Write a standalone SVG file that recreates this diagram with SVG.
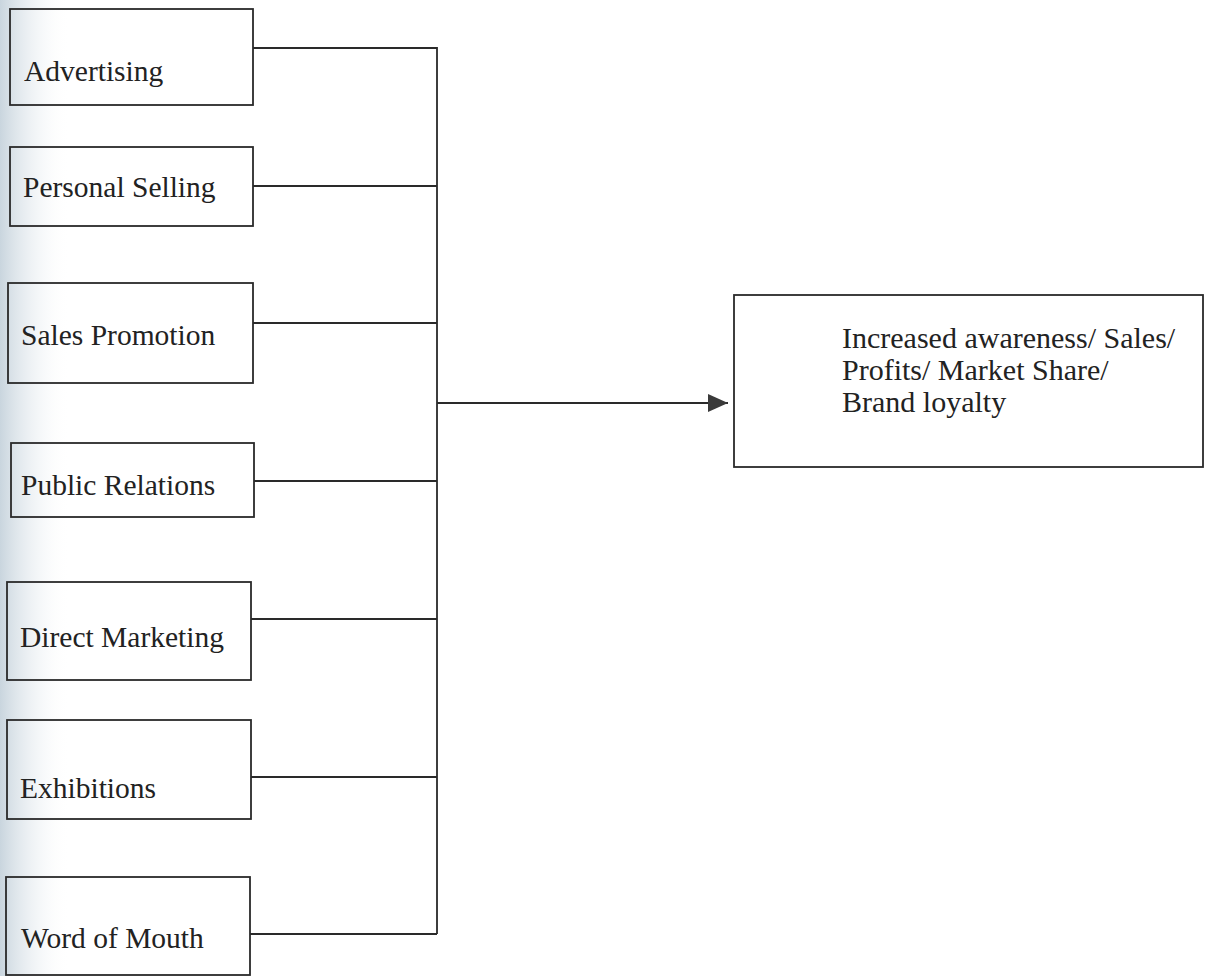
<svg xmlns="http://www.w3.org/2000/svg" width="1207" height="976" viewBox="0 0 1207 976">
  <defs>
    <linearGradient id="edge" x1="0" y1="0" x2="1" y2="0">
      <stop offset="0" stop-color="#c9d5de"/>
      <stop offset="1" stop-color="#ffffff" stop-opacity="0"/>
    </linearGradient>
    <marker id="arrow" viewBox="0 0 20 18" refX="20" refY="9" markerWidth="20" markerHeight="18" markerUnits="userSpaceOnUse" orient="auto">
      <path d="M0,0 L20,9 L0,18 Z" fill="#3a3a3a"/>
    </marker>
    <style>
      .box { fill: none; stroke: #2a2a2a; stroke-width: 1.8; }
      .lbl { font-family: "Liberation Serif", "Times New Roman", serif; font-size: 29.5px; fill: #222; }
      .out { font-family: "Liberation Serif", "Times New Roman", serif; font-size: 30px; fill: #222; }
      .con { fill: none; stroke: #2a2a2a; stroke-width: 1.8; }
    </style>
  </defs>
  <rect x="0" y="0" width="1207" height="976" fill="#ffffff"/>
  <rect x="0" y="0" width="70" height="976" fill="url(#edge)"/>

  <g id="connectors">
    <path class="con" d="M253,48 H437 V934"/>
    <path class="con" d="M253,186 H437"/>
    <path class="con" d="M253,323 H437"/>
    <path class="con" d="M254,481 H437"/>
    <path class="con" d="M251,619 H437"/>
    <path class="con" d="M251,777 H437"/>
    <path class="con" d="M250,934 H437"/>
    <path class="con" d="M437,403 H728" marker-end="url(#arrow)"/>
  </g>

  <g id="advertising">
    <rect class="box" x="10" y="9" width="243" height="96"/>
    <text class="lbl" x="24" y="81">Advertising</text>
  </g>
  <g id="personal-selling">
    <rect class="box" x="10" y="147" width="243" height="79"/>
    <text class="lbl" x="23" y="197">Personal Selling</text>
  </g>
  <g id="sales-promotion">
    <rect class="box" x="8" y="283" width="245" height="100"/>
    <text class="lbl" x="21" y="345">Sales Promotion</text>
  </g>
  <g id="public-relations">
    <rect class="box" x="11" y="443" width="243" height="74"/>
    <text class="lbl" x="21" y="495">Public Relations</text>
  </g>
  <g id="direct-marketing">
    <rect class="box" x="7" y="582" width="244" height="98"/>
    <text class="lbl" x="20" y="647">Direct Marketing</text>
  </g>
  <g id="exhibitions">
    <rect class="box" x="7" y="720" width="244" height="99"/>
    <text class="lbl" x="20" y="798">Exhibitions</text>
  </g>
  <g id="word-of-mouth">
    <rect class="box" x="6" y="877" width="244" height="98"/>
    <text class="lbl" x="21" y="948">Word of Mouth</text>
  </g>
  <g id="outcome">
    <rect class="box" x="734" y="295" width="469" height="172"/>
    <text class="out" x="842" y="348">Increased awareness/ Sales/</text>
    <text class="out" x="842" y="380">Profits/ Market Share/</text>
    <text class="out" x="842" y="412">Brand loyalty</text>
  </g>
</svg>
